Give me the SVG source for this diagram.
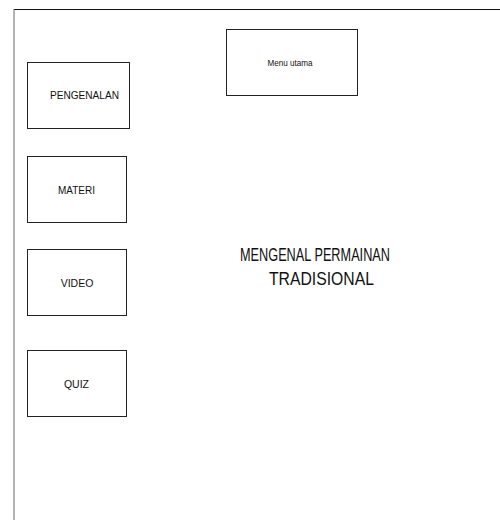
<svg xmlns="http://www.w3.org/2000/svg" width="500" height="520" viewBox="0 0 500 520">
<style>
.box{fill:#fff;stroke:#222;stroke-width:1}
.t{font-family:"Liberation Sans",Arial,sans-serif;fill:#111}
</style>
<rect width="500" height="520" fill="#fff"/>
<g id="frame">
<line x1="14" y1="9.5" x2="500" y2="9.5" stroke="#111" stroke-width="1"/>
<line x1="14" y1="9" x2="14" y2="520" stroke="#666" stroke-width="1"/>
</g>
<g id="connectors"></g>
<g id="menu-utama">
<rect class="box" x="226.5" y="29.5" width="131" height="66"/>
<text class="t" x="290" y="66" font-size="8.5" text-anchor="middle" textLength="45" lengthAdjust="spacingAndGlyphs">Menu utama</text>
</g>
<g id="pengenalan">
<rect class="box" x="27.5" y="62.5" width="102" height="66"/>
<text class="t" x="84.5" y="99" font-size="10.5" text-anchor="middle" textLength="69" lengthAdjust="spacingAndGlyphs">PENGENALAN</text>
</g>
<g id="materi">
<rect class="box" x="27.5" y="156.5" width="99" height="66"/>
<text class="t" x="76.5" y="194" font-size="10.5" text-anchor="middle" textLength="37" lengthAdjust="spacingAndGlyphs">MATERI</text>
</g>
<g id="video">
<rect class="box" x="27.5" y="249.5" width="99" height="66"/>
<text class="t" x="77" y="287" font-size="10.5" text-anchor="middle">VIDEO</text>
</g>
<g id="quiz">
<rect class="box" x="27.5" y="350.5" width="99" height="66"/>
<text class="t" x="76.5" y="388" font-size="10.5" text-anchor="middle">QUIZ</text>
</g>
<g id="title">
<text class="t" x="240" y="261" font-size="18" textLength="150" lengthAdjust="spacingAndGlyphs">MENGENAL PERMAINAN</text>
<text class="t" x="269" y="285" font-size="18" textLength="105" lengthAdjust="spacingAndGlyphs">TRADISIONAL</text>
</g>
</svg>
